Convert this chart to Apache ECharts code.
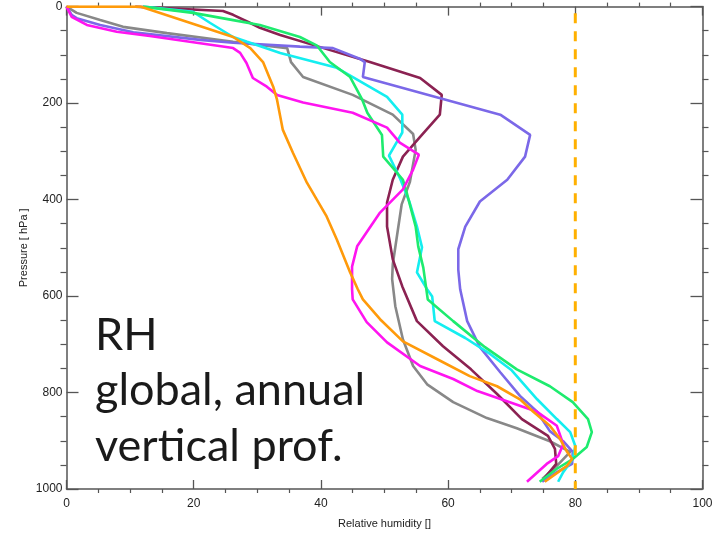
<!DOCTYPE html>
<html>
<head>
<meta charset="utf-8">
<script src="https://cdn.jsdelivr.net/npm/echarts@6/dist/echarts.min.js"></script>
<style>
  html, body { margin: 0; padding: 0; background: #fff; }
  #chart { width: 721px; height: 534px; }
</style>
</head>
<body>
<div id="chart"></div>
<script>
// Global annual mean relative humidity profiles: [RH (%), pressure (hPa)]
const orangeProfile = [
  [0, 0], [11.6, 0], [26.2, 63], [28.9, 86], [30.9, 115], [32.5, 166], [33.1, 193],
  [34.0, 255], [35.6, 303], [37.8, 365], [40.9, 435], [42.5, 483], [44.6, 551],
  [45.8, 586], [46.6, 607], [49.3, 648], [52.9, 694], [58.3, 731], [63.4, 766],
  [67.7, 787], [71.3, 814], [73.4, 840], [76.0, 869], [77.6, 896], [78.7, 923],
  [79.5, 938], [78.7, 952], [75.2, 985]
];
const magentaProfile = [
  [0, 0], [0.8, 21], [3.2, 38], [7.9, 52], [13.1, 61], [26.2, 86], [27.3, 96],
  [28.3, 117], [29.3, 148], [31.5, 166], [33.1, 183], [37.2, 199], [45.0, 220],
  [50.4, 251], [52.4, 282], [55.4, 307], [54.5, 338], [52.9, 379], [49.3, 427],
  [45.7, 497], [44.9, 539], [44.9, 586], [45.0, 607], [47.2, 654], [50.4, 696],
  [55.6, 745], [60.8, 772], [64.6, 797], [69.7, 820], [74.0, 840], [77.1, 869],
  [78.1, 907], [77.3, 932], [75.5, 948], [72.4, 985]
];
const purpleProfile = [
  [0, 0], [0.8, 17], [1.6, 24], [5.3, 38], [10.5, 53], [21.0, 69], [26.2, 75],
  [36.7, 83], [41.9, 86], [46.1, 108], [46.9, 115], [46.6, 146], [68.2, 224],
  [72.9, 266], [72.1, 311], [69.3, 359], [65.0, 404], [62.7, 456], [61.6, 503],
  [61.6, 545], [61.9, 586], [63.0, 652], [65.0, 706], [68.2, 758], [71.3, 807],
  [74.0, 840], [76.0, 880], [78.1, 901], [79.6, 923], [79.5, 948], [77.1, 965],
  [74.8, 985]
];
const maroonProfile = [
  [10.8, 0], [24.6, 9], [26.2, 17], [28.9, 34], [30.4, 44], [33.6, 59], [39.9, 84],
  [47.7, 115], [55.6, 148], [59.0, 183], [58.7, 224], [55.6, 270], [52.9, 311],
  [51.3, 359], [50.4, 406], [50.4, 456], [51.3, 524], [52.8, 580], [55.1, 652],
  [59.2, 704], [63.6, 752], [67.7, 803], [71.6, 855], [75.7, 890], [76.8, 917],
  [77.0, 948], [74.8, 983]
];
const grayProfile = [
  [0, 0], [1.6, 13], [5.3, 28], [8.9, 42], [15.8, 55], [26.2, 73], [34.7, 86],
  [35.3, 115], [37.2, 146], [45.0, 183], [51.3, 224], [54.5, 264], [54.9, 297],
  [54.0, 363], [52.7, 410], [52.0, 472], [51.3, 534], [51.2, 565], [51.7, 621],
  [52.9, 690], [54.5, 745], [56.7, 783], [60.8, 820], [66.1, 853], [70.8, 874],
  [76.0, 901], [79.2, 923], [77.1, 952], [74.8, 979]
];
const cyanProfile = [
  [12.0, 0], [19.9, 11], [22.6, 34], [26.2, 63], [28.4, 73], [33.6, 96], [42.5, 127],
  [50.4, 187], [52.8, 224], [52.8, 261], [50.7, 309], [52.4, 355], [53.9, 404],
  [55.1, 456], [55.9, 499], [55.1, 551], [56.7, 586], [57.5, 601], [57.9, 652],
  [62.7, 687], [66.6, 720], [70.0, 754], [74.0, 814], [77.1, 855], [79.2, 882],
  [80.0, 911], [79.6, 938], [78.1, 965], [77.3, 985]
];
const greenProfile = [
  [12.0, 0], [19.9, 13], [26.2, 28], [30.4, 38], [36.7, 63], [39.4, 81], [41.4, 115],
  [44.6, 146], [46.5, 193], [47.3, 220], [49.6, 266], [49.8, 311], [52.9, 359],
  [53.5, 386], [54.9, 456], [55.3, 497], [56.1, 541], [56.8, 607], [60.8, 652],
  [65.8, 706], [70.8, 752], [76.0, 787], [79.6, 820], [82.0, 855], [82.6, 882],
  [81.8, 913], [79.6, 938], [77.1, 958], [74.4, 985]
];
// Reference RH level (dashed)
const referenceLine = [[80, 14], [80, 1000]];

const xTicks = { min: 0, max: 100, interval: 20 };
const yTicks = { min: 0, max: 1000, interval: 200 };
const noteLines = ['RH', 'global, annual', 'vertical prof.'];

const axisColor = '#555';
const labelFont = { color: '#222', fontSize: 12, fontFamily: 'Liberation Sans, Arial, sans-serif' };

// Framed axis: line never snaps to zero, major and minor ticks point into the plot
function boxAxis(tickLen, minorLen, extra) {
  return Object.assign({
    type: 'value',
    axisLine: { show: true, onZero: false, lineStyle: { color: axisColor, width: 1.5 } },
    axisTick: { show: true, inside: true, length: tickLen, lineStyle: { color: axisColor, width: 1.3 } },
    minorTick: { show: true, splitNumber: 4, length: -minorLen, lineStyle: { color: axisColor, width: 1.2 } },
    splitLine: { show: false },
    minorSplitLine: { show: false }
  }, extra);
}

const profileSeries = [
  ['gray', grayProfile, '#888888'],
  ['maroon', maroonProfile, '#8B2252'],
  ['purple', purpleProfile, '#7B68E8'],
  ['cyan', cyanProfile, '#14EEF0'],
  ['green', greenProfile, '#1EEB6E'],
  ['magenta', magentaProfile, '#FF14F0'],
  ['orange', orangeProfile, '#FF9A0A']
].map(([name, data, color]) => ({
  name,
  type: 'line',
  data,
  symbol: 'none',
  smooth: false,
  lineStyle: { color, width: 2.6 },
  z: 3
}));

const chart = echarts.init(document.getElementById('chart'), null, { renderer: 'canvas' });
chart.setOption({
  animation: false,
  backgroundColor: '#ffffff',
  grid: { left: 66.5, right: 18.5, top: 6.6, bottom: 43.5, containLabel: false },
  xAxis: [
    boxAxis(9, 4, {
      position: 'bottom', min: xTicks.min, max: xTicks.max, interval: xTicks.interval,
      axisLabel: Object.assign({ margin: 9, formatter: v => String(v) }, labelFont),
      name: 'Relative humidity []', nameLocation: 'middle', nameGap: 29,
      nameTextStyle: { color: '#222', fontSize: 11, fontFamily: 'Liberation Sans, Arial, sans-serif' }
    }),
    boxAxis(9, 4, {
      position: 'top', min: xTicks.min, max: xTicks.max, interval: xTicks.interval,
      axisLabel: { show: false }
    })
  ],
  yAxis: [
    boxAxis(12, 6, {
      position: 'left', inverse: true, min: yTicks.min, max: yTicks.max, interval: yTicks.interval,
      axisLabel: Object.assign({ margin: 4, formatter: v => String(v) }, labelFont),
      name: 'Pressure [ hPa ]', nameLocation: 'middle', nameGap: 37, nameMoveOverlap: false,
      nameTextStyle: { color: '#222', fontSize: 11, fontFamily: 'Liberation Sans, Arial, sans-serif' }
    }),
    boxAxis(12, 6, {
      position: 'right', inverse: true, min: yTicks.min, max: yTicks.max, interval: yTicks.interval,
      axisLabel: { show: false }
    })
  ],
  series: profileSeries.concat([{
    name: 'reference',
    type: 'line',
    data: referenceLine,
    symbol: 'none',
    lineStyle: { color: '#FFB000', width: 3, type: [10, 8] },
    z: 4
  }]),
  graphic: noteLines.map((t, i) => ({
    type: 'text',
    left: 95,
    top: [313, 368, 424][i],
    style: {
      text: t,
      fill: '#1a1a1a',
      font: '45px Lato, "Open Sans", sans-serif'
    },
    z: 10
  }))
});
</script>
</body>
</html>
